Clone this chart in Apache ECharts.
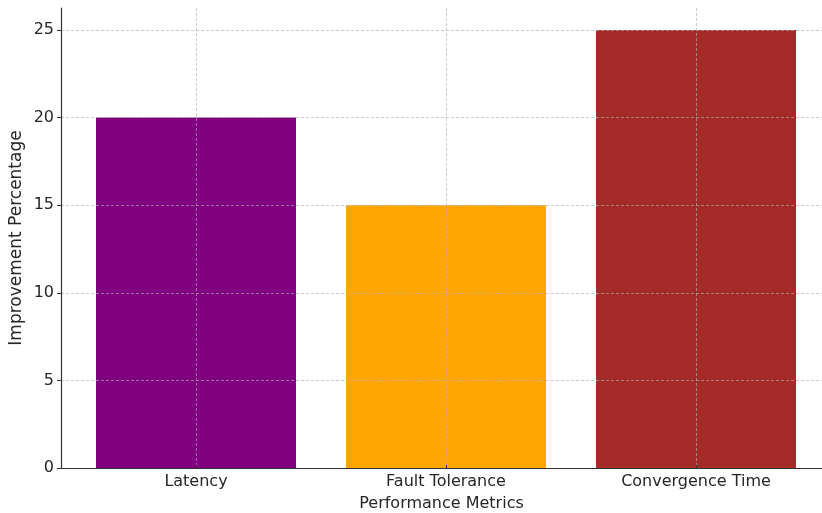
<!DOCTYPE html>
<html>
<head>
<meta charset="utf-8">
<script src="https://cdn.jsdelivr.net/npm/echarts@6/dist/echarts.min.js"></script>
<style>
  html, body { margin: 0; padding: 0; background: #fff; }
  #chart { width: 822px; height: 513px; }
</style>
</head>
<body>
<div id="chart"></div>
<script>
// Improvement per performance metric
const categories = ['Latency', 'Fault Tolerance', 'Convergence Time'];
const improvements = [20, 15, 25];
const barColors = ['#800080', '#FFA500', '#A52A2A'];
const yTicks = [0, 5, 10, 15, 20, 25];

const FONT = 'DejaVu Sans';
const TEXT = '#262626';
const AXIS = '#333333';
const GRIDLINE = 'rgba(176,176,176,0.65)';

// category positions on a numeric x scale, padded like a default bar plot
const gridLeft = 61, gridWidth = 761;
const unitPx = 250;                       // pixels per category step
const xMin = -0.54;
const xMax = xMin + gridWidth / unitPx;   // plot runs on past the right edge
const barWidth = 0.8 * unitPx;
const yMax = 26.25;

const chart = echarts.init(document.getElementById('chart'), null, { renderer: 'canvas' });

chart.setOption({
  animation: false,
  backgroundColor: '#ffffff',
  grid: {
    left: gridLeft, top: 8, width: gridWidth, bottom: 45,
    containLabel: false, outerBoundsMode: 'none'
  },
  xAxis: {
    type: 'value',
    min: xMin,
    max: xMax,
    z: 3,
    name: 'Performance Metrics',
    nameLocation: 'middle',
    nameGap: 27.5,
    nameMoveOverlap: false,
    nameTextStyle: { fontFamily: FONT, fontSize: 16, color: TEXT },
    axisLine: { show: true, onZero: false, lineStyle: { color: AXIS, width: 1.2 } },
    axisTick: { show: true, inside: true, length: 3, customValues: categories.map((_, i) => i),
                lineStyle: { color: AXIS, width: 1 } },
    axisLabel: {
      customValues: categories.map((_, i) => i),
      formatter: v => categories[Math.round(v)] || '',
      fontFamily: FONT, fontSize: 16, color: TEXT, margin: 6
    },
    splitLine: { show: true, lineStyle: { color: GRIDLINE, width: 1, type: [3, 2] } }
  },
  yAxis: {
    type: 'value',
    min: 0,
    max: yMax,
    z: 3,
    name: 'Improvement Percentage',
    nameLocation: 'middle',
    nameGap: 36,
    nameMoveOverlap: false,
    nameTextStyle: { fontFamily: FONT, fontSize: 17, color: TEXT },
    axisLine: { show: true, onZero: false, lineStyle: { color: AXIS, width: 1.2 } },
    axisTick: { show: true, length: 4, customValues: yTicks, lineStyle: { color: AXIS, width: 1 } },
    axisLabel: { customValues: yTicks, fontFamily: FONT, fontSize: 16, color: TEXT, margin: 7 },
    splitLine: { show: true, lineStyle: { color: GRIDLINE, width: 1, type: [3, 2] } }
  },
  series: [{
    type: 'bar',
    barWidth: barWidth,
    z: 1,
    data: improvements.map((v, i) => ({ value: [i, v], itemStyle: { color: barColors[i] } }))
  }]
});
</script>
</body>
</html>
